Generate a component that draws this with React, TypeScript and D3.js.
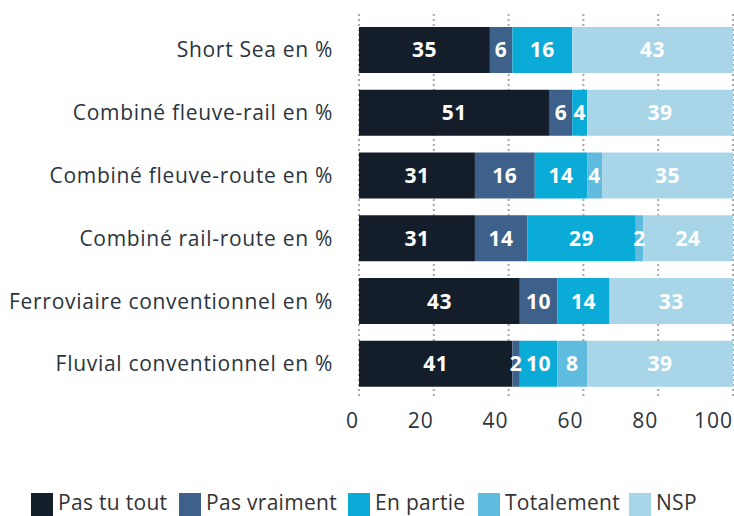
import React from "react";
import * as d3 from "d3";

const categories = [
  "Short Sea en %",
  "Combiné fleuve-rail en %",
  "Combiné fleuve-route en %",
  "Combiné rail-route en %",
  "Ferroviaire conventionnel en %",
  "Fluvial conventionnel en %",
];
const seriesNames = ["Pas tu tout", "Pas vraiment", "En partie", "Totalement", "NSP"];
const pasDuTout = [35, 51, 31, 31, 43, 41];
const pasVraiment = [6, 6, 16, 14, 10, 2];
const enPartie = [16, 4, 14, 29, 14, 10];
const totalement = [0, 0, 4, 2, 0, 8];
const nsp = [43, 39, 35, 24, 33, 39];
const xTicks = [0, 20, 40, 60, 80, 100];

const colors = ["#141e2a", "#3d618a", "#0babd8", "#5fbcdf", "#a8d5e8"];
const legendX = [31, 179, 348, 478, 629];
const FONT = "'Open Sans', 'DejaVu Sans', sans-serif";

export default function App() {
  const W = 734, H = 516;
  const x = d3.scaleLinear().domain([0, 100]).range([359, 733]);
  const y = d3
    .scaleBand<string>()
    .domain(categories)
    .range([27, 27 + 5 * 62.75 + 46])
    .paddingInner(0.267)
    .paddingOuter(0);
  const seriesValues = [pasDuTout, pasVraiment, enPartie, totalement, nsp];
  const rows = categories.map((c, i) => {
    const r: any = { cat: c };
    seriesNames.forEach((s, k) => (r[s] = seriesValues[k][i]));
    return r;
  });
  const stacked = d3.stack<any>().keys(seriesNames)(rows);

  return (
    <svg
      width={W}
      height={H}
      style={{ position: "absolute", left: 0, top: 0, background: "#fff" }}
      fontFamily={FONT}
    >
      {xTicks.map((t) => (
        <line
          key={t}
          x1={x(t)}
          x2={x(t)}
          y1={14}
          y2={398}
          stroke="#a8a8a8"
          strokeWidth={2}
          strokeDasharray="2,3"
        />
      ))}
      {stacked.map((layer, k) => (
        <g key={layer.key}>
          {layer.map((d, i) =>
            d[1] - d[0] > 0 ? (
              <rect
                key={i}
                x={x(d[0])}
                y={y(categories[i])}
                width={x(d[1]) - x(d[0])}
                height={y.bandwidth()}
                fill={colors[k]}
              />
            ) : null
          )}
        </g>
      ))}
      {stacked.map((layer, k) => (
        <g key={layer.key + "-lbl"}>
          {layer.map((d, i) =>
            d[1] - d[0] > 0 ? (
              <text
                key={i}
                x={x((d[0] + d[1]) / 2)}
                y={(y(categories[i]) as number) + y.bandwidth() / 2 + 7.5}
                textAnchor="middle"
                fill="#fff"
                fontSize={21}
                fontWeight={700}
                letterSpacing={0.5}
              >
                {d[1] - d[0]}
              </text>
            ) : null
          )}
        </g>
      ))}
      {categories.map((c) => (
        <text
          key={c}
          x={333}
          y={(y(c) as number) + y.bandwidth() / 2 + 7.5}
          textAnchor="end"
          fill="#2a3440"
          fontSize={21}
          letterSpacing={0.7}
        >
          {c}
        </text>
      ))}
      {xTicks.map((t) => (
        <text
          key={"t" + t}
          x={x(t)}
          y={428}
          textAnchor="end"
          fill="#2a3440"
          fontSize={21}
          letterSpacing={1}
        >
          {t}
        </text>
      ))}
      {seriesNames.map((s, k) => (
        <g key={s} transform={`translate(${legendX[k]},0)`}>
          <rect x={0} y={493} width={22} height={24} fill={colors[k]} />
          <text x={27} y={510} fill="#333" fontSize={21} letterSpacing={0.3}>
            {s}
          </text>
        </g>
      ))}
    </svg>
  );
}
